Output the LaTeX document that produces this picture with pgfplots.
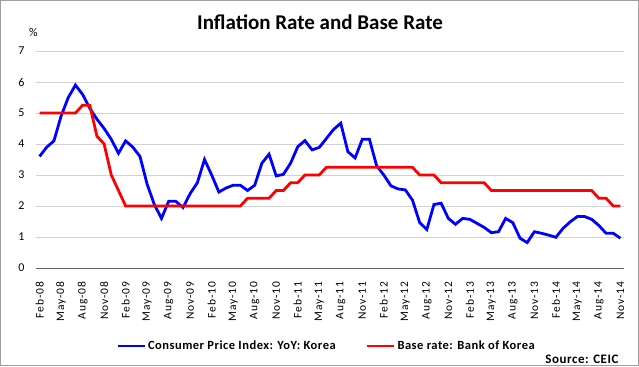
\documentclass[border=0pt]{standalone}
\usepackage{fontspec}
\setmainfont{Carlito}
\newfontfamily\tickfont[LetterSpace=8]{Carlito}
\newfontfamily\legfont[LetterSpace=4]{Carlito}
\usepackage{pgfplots}
\usepackage{pgfplotstable}
\pgfplotsset{compat=1.18}
\pgfplotstableread{
m cpi base
0 3.6 5.0
1 3.9 5.0
2 4.1 5.0
3 4.9 5.0
4 5.5 5.0
5 5.9 5.0
6 5.6 5.25
7 5.15 5.25
8 4.8 4.25
9 4.5 4.0
10 4.15 3.0
11 3.7 2.5
12 4.1 2.0
13 3.9 2.0
14 3.6 2.0
15 2.7 2.0
16 2.05 2.0
17 1.6 2.0
18 2.15 2.0
19 2.15 2.0
20 1.95 2.0
21 2.4 2.0
22 2.75 2.0
23 3.5 2.0
24 3.0 2.0
25 2.45 2.0
26 2.58 2.0
27 2.67 2.0
28 2.67 2.0
29 2.5 2.25
30 2.67 2.25
31 3.38 2.25
32 3.67 2.25
33 2.97 2.5
34 3.02 2.5
35 3.38 2.75
36 3.91 2.75
37 4.11 3.0
38 3.81 3.0
39 3.89 3.0
40 4.18 3.25
41 4.47 3.25
42 4.67 3.25
43 3.75 3.25
44 3.55 3.25
45 4.15 3.25
46 4.15 3.25
47 3.3 3.25
48 3.0 3.25
49 2.65 3.25
50 2.55 3.25
51 2.52 3.25
52 2.19 3.25
53 1.47 3.0
54 1.24 3.0
55 2.05 3.0
56 2.09 2.75
57 1.6 2.75
58 1.41 2.75
59 1.6 2.75
60 1.57 2.75
61 1.44 2.75
62 1.31 2.75
63 1.14 2.5
64 1.17 2.5
65 1.6 2.5
66 1.46 2.5
67 0.96 2.5
68 0.82 2.5
69 1.17 2.5
70 1.12 2.5
71 1.06 2.5
72 0.99 2.5
73 1.28 2.5
74 1.49 2.5
75 1.66 2.5
76 1.66 2.5
77 1.57 2.5
78 1.37 2.25
79 1.12 2.25
80 1.12 2.0
81 0.96 2.0
}\datatable
\begin{document}
\begin{tikzpicture}
\begin{axis}[
  at={(0,0)}, anchor=south west,
  scale only axis, width=588pt, height=217pt,
  xmin=-0.5, xmax=81.5, ymin=0, ymax=7,
  ytick={0,1,...,7},
  xtick={0,3,...,81},
  xticklabels={Feb-08,May-08,Aug-08,Nov-08,Feb-09,May-09,Aug-09,Nov-09,Feb-10,May-10,Aug-10,Nov-10,Feb-11,May-11,Aug-11,Nov-11,Feb-12,May-12,Aug-12,Nov-12,Feb-13,May-13,Aug-13,Nov-13,Feb-14,May-14,Aug-14,Nov-14},
  axis lines=left,
  axis line style={-},
  x axis line style={draw=gray!80!black, line width=0.8pt},
  y axis line style={draw=none},
  major tick length=0pt,
  ymajorgrids, grid style={draw=gray!35, line width=0.8pt},
  /pgf/number format/assume math mode=true,
  yticklabel style={font=\fontsize{12}{14}\selectfont, xshift=-8pt},
  xticklabel style={font=\tickfont\fontsize{11.5}{13}\selectfont, rotate=90, anchor=east, xshift=-10pt},
  legend columns=2,
  legend style={draw=none, fill=none, at={(axis description cs:0.494,-0.359)}, anchor=center,
    font=\legfont\fontsize{12.5}{14}\selectfont\bfseries,
    /tikz/every even column/.append style={column sep=28pt}},
  legend image code/.code={\draw[#1] (0pt,0pt) -- (27pt,0pt);},
]
\addplot[color={rgb,255:red,0;green,0;blue,255}, line width=2.8pt] table[x=m, y=cpi] {\datatable};
\addlegendentry{Consumer Price Index: YoY: Korea}
\addplot[color={rgb,255:red,255;green,0;blue,0}, line width=2.8pt] table[x=m, y=base] {\datatable};
\addlegendentry{Base rate: Bank of Korea}
\end{axis}
\node[font=\fontsize{21}{24}\selectfont\bfseries] at (284pt,246pt) {Inflation Rate and Base Rate};
\node[font=\fontsize{12}{14}\selectfont] at (-2.5pt,236pt) {\%};
\node[anchor=east, font=\legfont\fontsize{13}{15}\selectfont\bfseries] at (586pt,-91pt) {Source: CEIC};
\draw[gray!75, line width=1pt] (-35.5pt,-97.5pt) rectangle (602.5pt,267.5pt);
\end{tikzpicture}
\end{document}
